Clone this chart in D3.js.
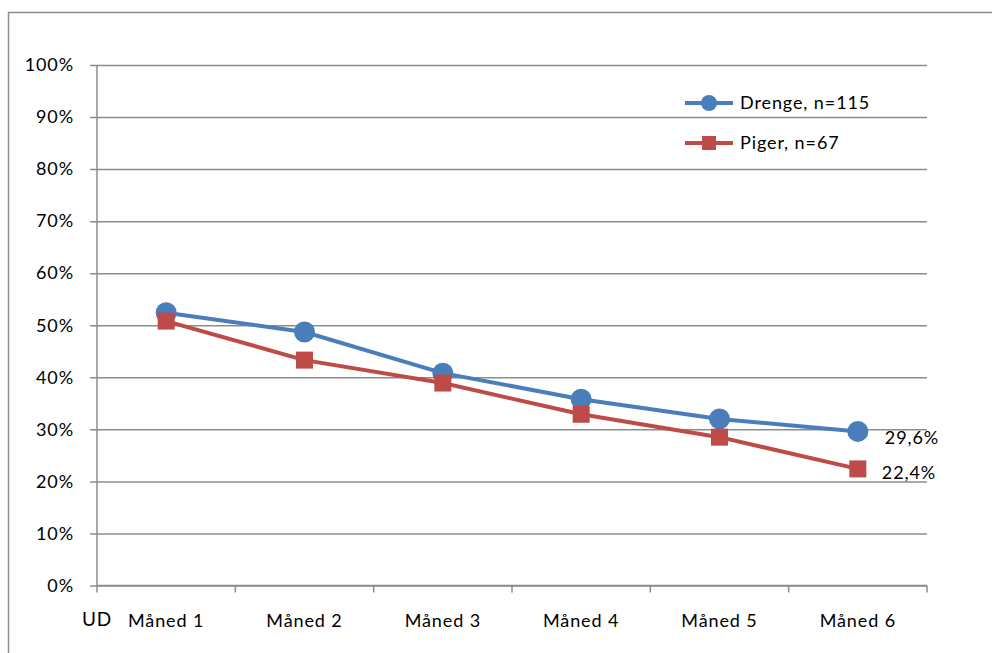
<!DOCTYPE html>
<html>
<head>
<meta charset="utf-8">
<script src="https://cdn.jsdelivr.net/npm/d3@7"></script>
<style>
  html, body { margin: 0; padding: 0; background: #fff; }
  svg { display: block; font-family: Lato, "Open Sans", sans-serif; }
  svg text { letter-spacing: 0.9px; }
</style>
</head>
<body>
<svg id="chart" width="992" height="653"></svg>
<script>
// Categories and series values (share of participants, %)
const months = ["Måned 1", "Måned 2", "Måned 3", "Måned 4", "Måned 5", "Måned 6"];
const drenge = [52.4, 48.7, 40.8, 35.8, 32.0, 29.6];
const piger  = [50.8, 43.3, 38.9, 32.9, 28.5, 22.4];
const yTicks = [0, 10, 20, 30, 40, 50, 60, 70, 80, 90, 100];
const seriesNames = ["Drenge, n=115", "Piger, n=67"];

const svg = d3.select("#chart");
const margin = { left: 97, right: 992 - 927, top: 65, bottom: 653 - 585.5 };
const width = 992 - margin.left - margin.right;
const height = 653 - margin.top - margin.bottom;
const fs = 18;

// outer chart frame
svg.append("rect")
  .attr("x", 8.5).attr("y", 12.5)
  .attr("width", 1200).attr("height", 1000)
  .attr("fill", "none").attr("stroke", "#8c8c8c").attr("stroke-width", 1.5);

const g = svg.append("g").attr("transform", `translate(${margin.left},${margin.top})`);

const x = d3.scaleBand().domain(months).range([0, width]);
const y = d3.scaleLinear().domain([0, 100]).range([height, 0]);

// horizontal gridlines with left tick stubs
g.append("g")
  .call(d3.axisLeft(y).tickValues(yTicks).tickSize(-width).tickFormat(d => d + "%").tickPadding(23))
  .call(s => s.select(".domain").remove())
  .call(s => s.selectAll(".tick line").attr("x1", -7).attr("stroke", "#8c8c8c").attr("stroke-width", 1.5))
  .call(s => s.selectAll(".tick text").attr("font-size", fs).attr("fill", "#000")
    .attr("font-family", "Lato, 'Open Sans', sans-serif"));

// left axis line
g.append("line").attr("x1", 0).attr("x2", 0).attr("y1", 0).attr("y2", height)
  .attr("stroke", "#8c8c8c").attr("stroke-width", 1.5);

// bottom axis with tick marks between categories
const boundaries = months.map(m => x(m)).concat([width]);
g.append("line").attr("x1", 0).attr("x2", width).attr("y1", height).attr("y2", height)
  .attr("stroke", "#8c8c8c").attr("stroke-width", 1.5);
g.selectAll(".xtick").data(boundaries).join("line")
  .attr("x1", d => d).attr("x2", d => d).attr("y1", height).attr("y2", height + 7)
  .attr("stroke", "#8c8c8c").attr("stroke-width", 1.5);
g.selectAll(".xlabel").data(months).join("text")
  .attr("x", d => x(d) + x.bandwidth() / 2).attr("y", height + 41)
  .attr("text-anchor", "middle").attr("font-size", fs).attr("fill", "#000")
  .text(d => d);

// "UD" marker under the origin
g.append("text").attr("x", 0).attr("y", height + 40).attr("text-anchor", "middle")
  .attr("font-size", 19).attr("fill", "#000").text("UD");

const cx = m => x(m) + x.bandwidth() / 2;
const line = d3.line().x((d, i) => cx(months[i])).y(d => y(d));

const blue = "#4a7ebb", red = "#be4b48";

// Drenge series
g.append("path").datum(drenge).attr("d", line)
  .attr("fill", "none").attr("stroke", blue).attr("stroke-width", 4).attr("stroke-linejoin", "round");
// Piger series
g.append("path").datum(piger).attr("d", line)
  .attr("fill", "none").attr("stroke", red).attr("stroke-width", 4).attr("stroke-linejoin", "round");

g.selectAll(".dot").data(drenge).join("circle")
  .attr("cx", (d, i) => cx(months[i])).attr("cy", d => y(d)).attr("r", 10.5).attr("fill", blue);
g.selectAll(".sq").data(piger).join("rect")
  .attr("x", (d, i) => cx(months[i]) - 8.5).attr("y", d => y(d) - 8.5)
  .attr("width", 17).attr("height", 17).attr("fill", red);

// end value labels
const fmt = v => v.toFixed(1).replace(".", ",") + "%";
g.append("text").attr("x", cx(months[5]) + 27).attr("y", y(drenge[5]) + 13)
  .attr("font-size", fs).attr("fill", "#000").text(fmt(drenge[5]));
g.append("text").attr("x", cx(months[5]) + 24).attr("y", y(piger[5]) + 10)
  .attr("font-size", fs).attr("fill", "#000").text(fmt(piger[5]));

// legend
const legend = svg.append("g").attr("transform", "translate(685,103)");
legend.append("line").attr("x1", 0).attr("x2", 48).attr("y1", 0).attr("y2", 0)
  .attr("stroke", blue).attr("stroke-width", 4);
legend.append("circle").attr("cx", 24).attr("cy", 0).attr("r", 8).attr("fill", blue);
legend.append("text").attr("x", 55).attr("y", 6).attr("font-size", fs).attr("fill", "#000").text(seriesNames[0]);
legend.append("line").attr("x1", 0).attr("x2", 48).attr("y1", 40).attr("y2", 40)
  .attr("stroke", red).attr("stroke-width", 4);
legend.append("rect").attr("x", 17).attr("y", 33).attr("width", 14).attr("height", 14).attr("fill", red);
legend.append("text").attr("x", 55).attr("y", 46).attr("font-size", fs).attr("fill", "#000").text(seriesNames[1]);
</script>
</body>
</html>
